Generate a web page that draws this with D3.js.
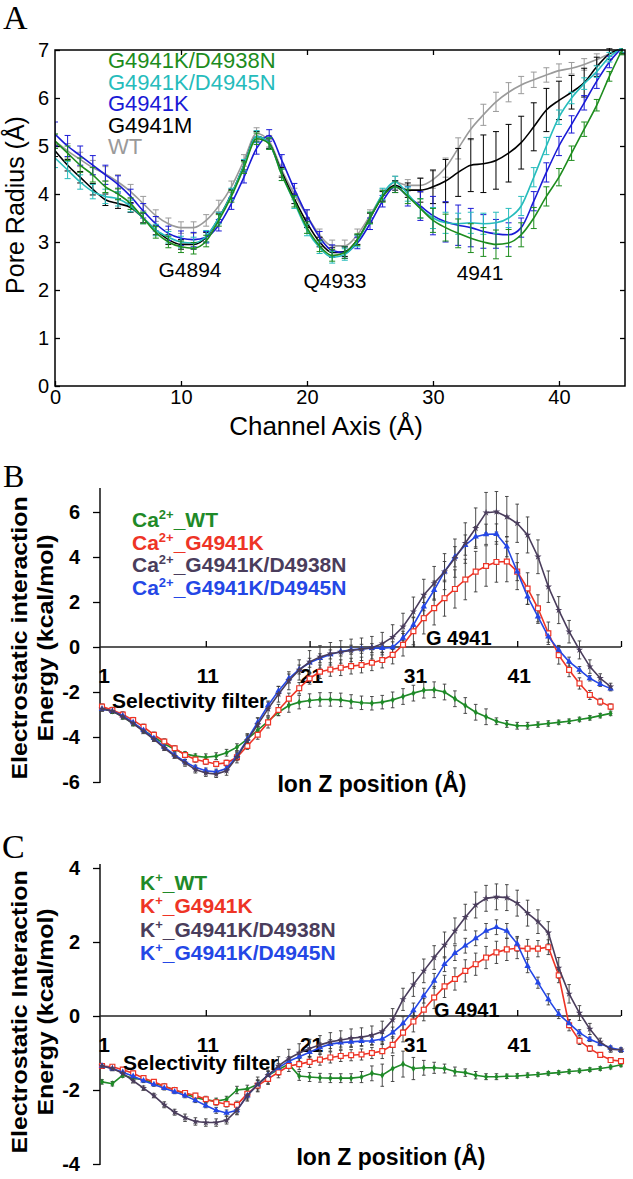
<!DOCTYPE html>
<html><head><meta charset="utf-8">
<script src="https://cdn.jsdelivr.net/npm/d3@7/dist/d3.min.js"></script>
<style>body{margin:0;background:#fff}svg{display:block}</style>
</head><body>
<svg id="c" width="633" height="1179"></svg>
<script>
// ---------- Panel A : pore radius ----------
const channelAxis = [0,1,2,3,4,5,6,7,8,9,10,11,12,13,14,15,16,17,18,19,20,21,22,23,24,25,26,27,28,29,30,31,32,33,34,35,36,37,38,39,40,41,42,43,44,45];
const radiusWT     = [5.1,4.9,4.72,4.55,4.42,4.25,4.05,3.8,3.55,3.38,3.3,3.3,3.45,3.75,4.15,4.7,5.26,5.1,4.5,4.0,3.55,3.15,2.92,2.92,3.15,3.55,3.98,4.25,4.18,4.18,4.3,4.55,4.95,5.35,5.65,5.92,6.12,6.27,6.38,6.48,6.57,6.62,6.7,6.8,6.92,7.02];
const radiusG4941M = [4.9,4.6,4.35,4.1,3.88,3.8,3.72,3.5,3.25,3.05,2.95,2.95,3.1,3.5,4.0,4.6,5.2,5.05,4.45,3.9,3.4,3.0,2.78,2.8,3.05,3.5,3.95,4.18,4.08,4.08,4.15,4.27,4.45,4.6,4.63,4.7,4.85,5.07,5.4,5.75,5.95,6.12,6.32,6.65,6.92,7.02];
const radiusG4941K = [5.25,5.0,4.8,4.6,4.4,4.2,3.95,3.65,3.38,3.18,3.08,3.05,3.1,3.35,3.8,4.35,4.95,5.22,4.7,4.1,3.55,3.1,2.82,2.78,2.98,3.38,3.85,4.15,3.95,3.75,3.55,3.42,3.35,3.3,3.22,3.17,3.15,3.3,3.85,4.45,5.0,5.45,5.9,6.35,6.75,7.05];
const radiusD4945N = [4.75,4.5,4.25,4.05,3.95,3.9,3.75,3.5,3.25,3.1,3.0,2.98,3.12,3.5,4.0,4.6,5.2,5.05,4.4,3.82,3.25,2.88,2.68,2.74,3.02,3.5,4.0,4.25,4.0,3.7,3.5,3.4,3.38,3.4,3.38,3.4,3.5,3.75,4.35,5.0,5.6,6.0,6.3,6.55,6.85,7.05];
const radiusD4938N = [5.1,4.85,4.6,4.4,4.15,4.0,3.8,3.5,3.2,3.0,2.9,2.87,3.02,3.45,3.95,4.55,5.15,5.05,4.4,3.85,3.3,2.92,2.72,2.78,3.05,3.5,3.95,4.15,3.95,3.7,3.45,3.3,3.18,3.08,3.0,2.95,2.98,3.15,3.5,3.95,4.35,4.85,5.35,5.85,6.45,7.0];
const errWT     = [0.15,0.15,0.15,0.15,0.15,0.15,0.15,0.15,0.12,0.12,0.12,0.12,0.12,0.12,0.12,0.12,0.12,0.12,0.12,0.12,0.12,0.12,0.12,0.12,0.12,0.12,0.12,0.12,0.12,0.15,0.18,0.2,0.22,0.22,0.22,0.2,0.2,0.18,0.16,0.15,0.14,0.12,0.12,0.12,0.1,0.1];
const errG4941M = [0.12,0.12,0.12,0.12,0.12,0.1,0.1,0.1,0.1,0.1,0.1,0.1,0.1,0.1,0.1,0.1,0.1,0.1,0.1,0.1,0.1,0.1,0.1,0.1,0.1,0.1,0.1,0.1,0.15,0.25,0.35,0.45,0.5,0.55,0.6,0.6,0.6,0.55,0.5,0.45,0.4,0.35,0.3,0.2,0.12,0.1];
const errG4941K = [0.25,0.22,0.2,0.2,0.2,0.18,0.15,0.15,0.15,0.15,0.15,0.15,0.12,0.12,0.12,0.12,0.12,0.12,0.12,0.12,0.12,0.12,0.12,0.12,0.12,0.12,0.12,0.12,0.2,0.3,0.4,0.42,0.42,0.4,0.35,0.3,0.25,0.2,0.2,0.2,0.2,0.18,0.15,0.15,0.12,0.1];
const errD4945N = [0.2,0.18,0.15,0.15,0.15,0.15,0.12,0.12,0.12,0.12,0.12,0.12,0.12,0.12,0.12,0.12,0.12,0.12,0.12,0.12,0.12,0.12,0.12,0.12,0.12,0.12,0.12,0.12,0.15,0.2,0.22,0.22,0.22,0.22,0.22,0.22,0.2,0.2,0.2,0.18,0.15,0.12,0.12,0.12,0.1,0.1];
const errD4938N = [0.15,0.15,0.15,0.15,0.12,0.12,0.12,0.12,0.12,0.12,0.12,0.12,0.12,0.12,0.12,0.12,0.12,0.12,0.12,0.12,0.12,0.12,0.12,0.12,0.12,0.12,0.12,0.12,0.15,0.2,0.25,0.28,0.3,0.3,0.3,0.3,0.28,0.25,0.22,0.2,0.18,0.15,0.15,0.12,0.1,0.1];
const poreNames  = ["G4941K/D4938N","G4941K/D4945N","G4941K","G4941M","WT"];
const poreColors = ["#1d8c1d","#26bcbc","#1a1ad6","#000000","#9a9a9a"];
const poreTicksX = [0,10,20,30,40];
const poreTicksY = [0,1,2,3,4,5,6,7];

// ---------- Panel B : Ca2+ interaction energy ----------
const ionZ_B = [1,2,3,4,5,6,7,8,9,10,11,12,13,14,15,16,17,18,19,20,21,22,23,24,25,26,27,28,29,30,31,32,33,34,35,36,37,38,39,40,41,42,43,44,45,46,47,48,49,50];
const caWT     = [-2.7,-2.85,-3.1,-3.4,-3.7,-4.0,-4.3,-4.55,-4.75,-4.85,-4.9,-4.85,-4.7,-4.45,-4.1,-3.7,-3.3,-2.9,-2.6,-2.45,-2.38,-2.33,-2.33,-2.35,-2.42,-2.48,-2.5,-2.45,-2.35,-2.2,-2.05,-1.92,-1.9,-2.0,-2.3,-2.6,-2.9,-3.1,-3.3,-3.42,-3.5,-3.5,-3.45,-3.4,-3.35,-3.3,-3.22,-3.15,-3.05,-2.95];
const caG4941K = [-2.65,-2.8,-3.0,-3.25,-3.55,-3.9,-4.2,-4.5,-4.8,-5.0,-5.1,-5.2,-5.15,-4.9,-4.4,-3.9,-3.35,-2.8,-2.3,-1.83,-1.4,-1.1,-1.0,-0.92,-0.85,-0.8,-0.7,-0.58,-0.35,0.1,0.7,1.28,1.73,2.17,2.58,3.0,3.35,3.6,3.78,3.8,3.35,2.6,1.72,0.61,-0.36,-1.02,-1.62,-2.13,-2.43,-2.65];
const caD4938N = [-2.75,-2.85,-3.1,-3.4,-3.75,-4.1,-4.5,-4.85,-5.15,-5.45,-5.6,-5.65,-5.5,-4.9,-4.15,-3.45,-2.75,-2.1,-1.5,-1.02,-0.66,-0.44,-0.3,-0.22,-0.15,-0.1,-0.03,0.15,0.44,0.9,1.57,2.31,2.83,3.35,3.95,4.62,5.28,5.97,6.01,5.79,5.5,4.98,4.01,2.68,1.64,0.68,-0.13,-0.87,-1.39,-1.76];
const caD4945N = [-2.75,-2.85,-3.05,-3.35,-3.7,-4.05,-4.45,-4.8,-5.1,-5.35,-5.5,-5.55,-5.4,-4.85,-4.1,-3.35,-2.6,-1.95,-1.4,-1.0,-0.7,-0.5,-0.33,-0.2,-0.12,-0.08,-0.05,-0.05,-0.02,0.4,0.98,1.79,2.53,3.35,4.01,4.53,4.9,5.01,5.02,4.46,3.35,2.24,1.35,0.46,-0.13,-0.65,-1.02,-1.39,-1.65,-1.85];
const caErrWT     = [0.1,0.1,0.1,0.1,0.1,0.1,0.1,0.1,0.1,0.1,0.15,0.15,0.15,0.15,0.15,0.15,0.15,0.15,0.3,0.3,0.3,0.3,0.3,0.3,0.3,0.3,0.3,0.3,0.35,0.35,0.35,0.35,0.35,0.35,0.35,0.35,0.35,0.35,0.15,0.15,0.15,0.15,0.12,0.12,0.1,0.1,0.1,0.1,0.1,0.1];
const caErrG4941K = [0.12,0.12,0.12,0.12,0.12,0.12,0.12,0.12,0.12,0.12,0.12,0.12,0.12,0.15,0.15,0.2,0.25,0.25,0.25,0.25,0.25,0.3,0.3,0.35,0.35,0.35,0.35,0.35,0.4,0.5,0.6,0.7,0.75,0.8,0.85,0.9,0.9,0.9,0.9,0.9,0.8,0.7,0.6,0.5,0.4,0.3,0.25,0.2,0.15,0.12];
const caErrD4938N = [0.1,0.1,0.1,0.1,0.1,0.1,0.1,0.1,0.15,0.15,0.15,0.15,0.2,0.25,0.3,0.3,0.3,0.35,0.4,0.45,0.5,0.5,0.5,0.5,0.5,0.5,0.5,0.5,0.55,0.6,0.65,0.7,0.75,0.8,0.85,0.9,0.9,0.9,0.9,0.9,0.85,0.8,0.75,0.7,0.6,0.5,0.4,0.3,0.2,0.15];
const caErrD4945N = [0.1,0.1,0.1,0.1,0.1,0.1,0.1,0.1,0.1,0.1,0.12,0.12,0.12,0.15,0.2,0.2,0.2,0.2,0.2,0.2,0.2,0.2,0.2,0.2,0.2,0.2,0.2,0.2,0.25,0.3,0.35,0.4,0.4,0.45,0.45,0.45,0.45,0.45,0.45,0.45,0.4,0.35,0.3,0.25,0.2,0.2,0.15,0.12,0.1,0.1];
const caLabels = [["Ca","2+","_WT"],["Ca","2+","_G4941K"],["Ca","2+","_G4941K/D4938N"],["Ca","2+","_G4941K/D4945N"]];
const caTicksY = [-6,-4,-2,0,2,4,6];

// ---------- Panel C : K+ interaction energy ----------
const ionZ_C = [1,2,3,4,5,6,7,8,9,10,11,12,13,14,15,16,17,18,19,20,21,22,23,24,25,26,27,28,29,30,31,32,33,34,35,36,37,38,39,40,41,42,43,44,45,46,47,48,49,50,51];
const kWT     = [-1.78,-1.83,-1.6,-1.68,-1.72,-1.82,-1.9,-2.0,-2.1,-2.2,-2.27,-2.3,-2.25,-2.0,-1.97,-1.85,-1.6,-1.45,-1.3,-1.62,-1.65,-1.67,-1.68,-1.68,-1.68,-1.65,-1.55,-1.6,-1.42,-1.3,-1.42,-1.4,-1.4,-1.42,-1.5,-1.53,-1.6,-1.64,-1.64,-1.63,-1.62,-1.6,-1.58,-1.55,-1.53,-1.5,-1.48,-1.45,-1.42,-1.38,-1.32];
const kG4941K = [-1.35,-1.37,-1.45,-1.55,-1.68,-1.78,-1.9,-2.0,-2.08,-2.15,-2.25,-2.33,-2.38,-2.4,-2.1,-1.88,-1.7,-1.52,-1.35,-1.3,-1.24,-1.18,-1.12,-1.08,-1.06,-1.04,-1.0,-0.95,-0.78,-0.45,-0.15,0.17,0.5,0.8,1.0,1.22,1.4,1.58,1.72,1.8,1.83,1.82,1.82,1.86,1.1,-0.25,-0.67,-0.88,-1.05,-1.19,-1.22];
const kD4938N = [-1.35,-1.42,-1.55,-1.75,-1.95,-2.15,-2.4,-2.6,-2.75,-2.85,-2.88,-2.88,-2.82,-2.55,-2.15,-1.85,-1.6,-1.35,-1.15,-1.0,-0.88,-0.78,-0.7,-0.65,-0.6,-0.57,-0.52,-0.42,-0.1,0.45,0.85,1.22,1.58,1.92,2.3,2.67,3.0,3.18,3.22,3.2,3.05,2.78,2.55,2.25,1.3,0.6,0.08,-0.35,-0.7,-0.9,-0.92];
const kD4945N = [-1.35,-1.42,-1.52,-1.63,-1.75,-1.85,-1.95,-2.05,-2.15,-2.28,-2.42,-2.55,-2.62,-2.55,-2.15,-1.85,-1.6,-1.4,-1.22,-1.1,-0.98,-0.85,-0.76,-0.72,-0.7,-0.68,-0.67,-0.62,-0.45,-0.2,0.15,0.55,0.95,1.4,1.7,1.9,2.1,2.3,2.4,2.3,1.95,1.35,0.9,0.45,0.05,-0.2,-0.45,-0.63,-0.75,-0.86,-0.92];
const kErrWT     = [0.06,0.06,0.06,0.06,0.06,0.06,0.06,0.06,0.06,0.06,0.06,0.08,0.08,0.1,0.1,0.1,0.1,0.1,0.12,0.12,0.12,0.12,0.12,0.12,0.12,0.15,0.2,0.3,0.35,0.35,0.3,0.2,0.15,0.12,0.12,0.1,0.1,0.08,0.08,0.06,0.06,0.06,0.05,0.05,0.05,0.05,0.05,0.05,0.05,0.05,0.05];
const kErrG4941K = [0.06,0.06,0.06,0.06,0.06,0.06,0.06,0.06,0.06,0.06,0.08,0.08,0.08,0.1,0.12,0.15,0.15,0.15,0.15,0.15,0.15,0.15,0.15,0.15,0.15,0.15,0.15,0.2,0.22,0.25,0.28,0.3,0.3,0.3,0.3,0.3,0.3,0.3,0.3,0.3,0.28,0.25,0.22,0.2,0.2,0.15,0.1,0.08,0.06,0.06,0.06];
const kErrD4938N = [0.06,0.06,0.06,0.06,0.06,0.06,0.08,0.08,0.1,0.1,0.1,0.1,0.1,0.12,0.15,0.2,0.22,0.25,0.25,0.25,0.25,0.25,0.25,0.25,0.25,0.25,0.25,0.28,0.3,0.3,0.32,0.32,0.32,0.35,0.35,0.35,0.35,0.35,0.35,0.35,0.35,0.35,0.32,0.3,0.28,0.25,0.2,0.15,0.1,0.08,0.06];
const kErrD4945N = [0.05,0.05,0.05,0.05,0.05,0.05,0.05,0.05,0.06,0.06,0.06,0.08,0.08,0.1,0.12,0.12,0.12,0.12,0.12,0.12,0.12,0.12,0.12,0.12,0.12,0.12,0.12,0.15,0.15,0.18,0.2,0.2,0.2,0.2,0.2,0.2,0.2,0.2,0.2,0.2,0.2,0.18,0.15,0.15,0.12,0.1,0.08,0.06,0.05,0.05,0.05];
const kLabels = [["K","+","_WT"],["K","+","_G4941K"],["K","+","_G4941K/D4938N"],["K","+","_G4941K/D4945N"]];
const kTicksY = [-4,-2,0,2,4];

const ionTickLabels = [1,11,21,31,41];
const ionTickMarks  = [11,21,31,41,51];
const energyColors  = ["#1f8a28","#ee3426","#4a3d5c","#2447e6"];

// ---------- drawing ----------
const SANS = "'Liberation Sans', Arial, Helvetica, sans-serif";
const SERIF = "'Liberation Serif', 'Times New Roman', serif";
const svg = d3.select("#c");

// ===== Panel A =====
const xA = d3.scaleLinear().domain([0, 45.24]).range([55, 625]);
const yA = d3.scaleLinear().domain([0, 7]).range([386, 50]);
const gA = svg.append("g");

gA.append("text").attr("x", 3).attr("y", 29).attr("font-family", SERIF).attr("font-size", 34).text("A");

function styleAxis(sel, fs, bold) {
  sel.select(".domain").remove();
  sel.selectAll(".tick line").attr("stroke", "#000").attr("stroke-width", 1.3);
  sel.selectAll(".tick text").attr("font-family", SANS).attr("font-size", fs)
     .attr("font-weight", bold ? "bold" : "normal").attr("fill", "#000");
}
const intFmt = d3.format("d");
gA.append("g").attr("transform", "translate(0,386)")
  .call(d3.axisBottom(xA).tickValues(poreTicksX).tickFormat(intFmt).tickSizeInner(-5).tickSizeOuter(0).tickPadding(4))
  .call(s => styleAxis(s, 20, false));
gA.append("g").attr("transform", "translate(0,50)")
  .call(d3.axisTop(xA).tickValues(poreTicksX.slice(1)).tickSizeInner(-5).tickSizeOuter(0).tickFormat(""))
  .call(s => styleAxis(s, 20, false));
gA.append("g").attr("transform", "translate(55,0)")
  .call(d3.axisLeft(yA).tickValues(poreTicksY).tickFormat(intFmt).tickSizeInner(-5).tickSizeOuter(0).tickPadding(6))
  .call(s => styleAxis(s, 20, false));
gA.append("g").attr("transform", "translate(625,0)")
  .call(d3.axisRight(yA).tickValues(poreTicksY.slice(1, 7)).tickSizeInner(-5).tickSizeOuter(0).tickFormat(""))
  .call(s => styleAxis(s, 20, false));

const poreSeries = [
  {v: radiusWT, e: errWT, c: poreColors[4]},
  {v: radiusG4941M, e: errG4941M, c: poreColors[3]},
  {v: radiusG4941K, e: errG4941K, c: poreColors[2]},
  {v: radiusD4945N, e: errD4945N, c: poreColors[1]},
  {v: radiusD4938N, e: errD4938N, c: poreColors[0]}
];
const clipA = svg.append("clipPath").attr("id", "clipA");
clipA.append("rect").attr("x", 55).attr("y", 48).attr("width", 572).attr("height", 340);
const plotA = gA.append("g").attr("clip-path", "url(#clipA)");
const lineA = d3.line().x((d, i) => xA(channelAxis[i])).y(d => yA(d)).curve(d3.curveMonotoneX);
poreSeries.forEach(s => {
  const eg = plotA.append("g").attr("stroke", s.c).attr("stroke-width", 1).attr("fill", "none");
  s.v.forEach((v, i) => {
    const x = xA(channelAxis[i]), y1 = yA(v - s.e[i]), y2 = yA(v + s.e[i]);
    eg.append("line").attr("x1", x).attr("x2", x).attr("y1", y1).attr("y2", y2);
    eg.append("line").attr("x1", x - 3).attr("x2", x + 3).attr("y1", y1).attr("y2", y1);
    eg.append("line").attr("x1", x - 3).attr("x2", x + 3).attr("y1", y2).attr("y2", y2);
  });
  plotA.append("path").datum(s.v).attr("d", lineA).attr("fill", "none")
    .attr("stroke", s.c).attr("stroke-width", 1.6);
});
gA.append("rect").attr("x", 55).attr("y", 50).attr("width", 570).attr("height", 336)
  .attr("fill", "none").attr("stroke", "#000").attr("stroke-width", 1.5);

// legend A
poreNames.forEach((n, i) => {
  gA.append("text").attr("x", 108).attr("y", 68 + i * 21.5).attr("font-family", SANS)
    .attr("font-size", 22).attr("fill", poreColors[i]).text(n);
});
// annotations A
[["G4894", 190, 277], ["Q4933", 335, 288], ["4941", 480, 280]].forEach(a => {
  gA.append("text").attr("x", a[1]).attr("y", a[2]).attr("text-anchor", "middle")
    .attr("font-family", SANS).attr("font-size", 21).text(a[0]);
});
gA.append("text").attr("x", 326).attr("y", 435).attr("text-anchor", "middle")
  .attr("font-family", SANS).attr("font-size", 26).text("Channel Axis (Å)");
gA.append("text").attr("transform", "translate(24,205) rotate(-90)").attr("text-anchor", "middle")
  .attr("font-family", SANS).attr("font-size", 25).text("Pore Radius (Å)");

// ===== Energy panels (B, C) =====
function energyPanel(opt) {
  const g = svg.append("g");
  const x = d3.scaleLinear().domain([1, 51]).range([102, 621]);
  const y = d3.scaleLinear().domain(opt.yDomain).range(opt.yRange);
  const y0 = y(0);

  g.append("text").attr("x", opt.letterX).attr("y", opt.letterY).attr("font-family", SERIF)
    .attr("font-size", opt.letterSize).text(opt.letter);

  // y axis
  g.append("line").attr("x1", 100).attr("x2", 100).attr("y1", opt.axisTop).attr("y2", opt.axisBottom)
    .attr("stroke", "#000").attr("stroke-width", 1.4);
  g.append("g").attr("transform", "translate(100,0)")
    .call(d3.axisLeft(y).tickValues(opt.yTicks).tickSize(7).tickPadding(13).tickFormat(d => String(d)))
    .call(s => styleAxis(s, 20, true));

  // x axis along zero
  g.append("line").attr("x1", 100).attr("x2", 621).attr("y1", y0).attr("y2", y0)
    .attr("stroke", "#222").attr("stroke-width", 1.3);
  g.append("g").attr("transform", `translate(0,${y0})`)
    .call(d3.axisBottom(x).tickValues(ionTickMarks).tickSizeInner(-6).tickSizeOuter(0).tickFormat(""))
    .call(s => styleAxis(s, 21, true));
  ionTickLabels.forEach(t => {
    g.append("text").attr("x", x(t) + 2).attr("y", y0 + 36).attr("text-anchor", "middle")
      .attr("font-family", SANS).attr("font-weight", "bold").attr("font-size", 21).text(String(t));
  });

  const symbols = [
    {type: d3.symbolDiamond, size: 14, fill: energyColors[0], stroke: "none"},
    {type: d3.symbolSquare, size: 24, fill: "#fff", stroke: energyColors[1]},
    {type: d3.symbolStar, size: 16, fill: energyColors[2], stroke: "none"},
    {type: d3.symbolTriangle, size: 18, fill: energyColors[3], stroke: "none"}
  ];
  const line = d3.line().x((d, i) => x(opt.xs[i])).y(d => y(d));
  const order = [0, 1, 3, 2];
  order.forEach(k => {
    const vals = opt.series[k], errs = opt.errors[k];
    const eg = g.append("g").attr("stroke", "#3a3a3a").attr("stroke-width", 0.9);
    vals.forEach((v, i) => {
      const px = x(opt.xs[i]), a = y(v - errs[i]), b = y(v + errs[i]);
      eg.append("line").attr("x1", px).attr("x2", px).attr("y1", a).attr("y2", b);
      eg.append("line").attr("x1", px - 1.8).attr("x2", px + 1.8).attr("y1", a).attr("y2", a);
      eg.append("line").attr("x1", px - 1.8).attr("x2", px + 1.8).attr("y1", b).attr("y2", b);
    });
  });
  order.forEach(k => {
    const vals = opt.series[k];
    g.append("path").datum(vals).attr("d", line).attr("fill", "none")
      .attr("stroke", energyColors[k]).attr("stroke-width", 1.6);
    const sym = symbols[k];
    g.append("g").selectAll("path").data(vals).join("path")
      .attr("transform", (d, i) => `translate(${x(opt.xs[i])},${y(d)})`)
      .attr("d", d3.symbol().type(sym.type).size(sym.size))
      .attr("fill", sym.fill).attr("stroke", sym.stroke).attr("stroke-width", 1.2);
  });

  // legend
  opt.labels.forEach((lab, i) => {
    const t = g.append("text").attr("x", opt.legendX).attr("y", opt.legendY + i * opt.legendStep)
      .attr("font-family", SANS).attr("font-weight", "bold").attr("font-size", 21).attr("fill", energyColors[i]);
    t.append("tspan").text(lab[0]);
    t.append("tspan").attr("dy", -8).attr("font-size", 13).text(lab[1]);
    t.append("tspan").attr("dy", 8).text(lab[2]);
  });

  g.append("text").attr("x", opt.sfX).attr("y", opt.sfY).attr("font-family", SANS).attr("font-weight", "bold")
    .attr("font-size", 21).text("Selectivity filter");
  g.append("text").attr("x", opt.gX).attr("y", opt.gY).attr("font-family", SANS).attr("font-weight", "bold")
    .attr("font-size", 20).text("G 4941");
  g.append("text").attr("x", opt.xlabX).attr("y", opt.xlabY).attr("text-anchor", "middle").attr("font-family", SANS)
    .attr("font-weight", "bold").attr("font-size", 23).text("Ion Z position (Å)");
  const yl = g.append("g").attr("transform", `translate(0,${opt.ylabY})`);
  yl.append("text").attr("transform", "translate(27,0) rotate(-90) scale(1.13,1)").attr("text-anchor", "middle")
    .attr("font-family", SANS).attr("font-weight", "bold").attr("font-size", 22).text(opt.ylab1);
  yl.append("text").attr("transform", "translate(53,0) rotate(-90) scale(1.13,1)").attr("text-anchor", "middle")
    .attr("font-family", SANS).attr("font-weight", "bold").attr("font-size", 22).text("Energy (kcal/mol)");
}

energyPanel({
  letter: "B", letterX: 3, letterY: 487, letterSize: 32,
  yDomain: [-6, 7], yRange: [782, 489.5], yTicks: caTicksY, axisTop: 488, axisBottom: 783,
  xs: ionZ_B, series: [caWT, caG4941K, caD4938N, caD4945N],
  errors: [caErrWT, caErrG4941K, caErrD4938N, caErrD4945N],
  labels: caLabels, legendX: 132, legendY: 527, legendStep: 22.7,
  sfX: 112, sfY: 708, gX: 426, gY: 645, xlabX: 372, xlabY: 792,
  ylabY: 638, ylab1: "Electrostatic interaction"
});
energyPanel({
  letter: "C", letterX: 2, letterY: 858, letterSize: 34,
  yDomain: [-4, 4], yRange: [1164, 868], yTicks: kTicksY, axisTop: 864, axisBottom: 1165,
  xs: ionZ_C, series: [kWT, kG4941K, kD4938N, kD4945N],
  errors: [kErrWT, kErrG4941K, kErrD4938N, kErrD4945N],
  labels: kLabels, legendX: 140, legendY: 890, legendStep: 23.3,
  sfX: 123, sfY: 1070, gX: 434, gY: 1017, xlabX: 391, xlabY: 1165,
  ylabY: 1012, ylab1: "Electrostatic Interaction"
});
</script>
</body></html>
